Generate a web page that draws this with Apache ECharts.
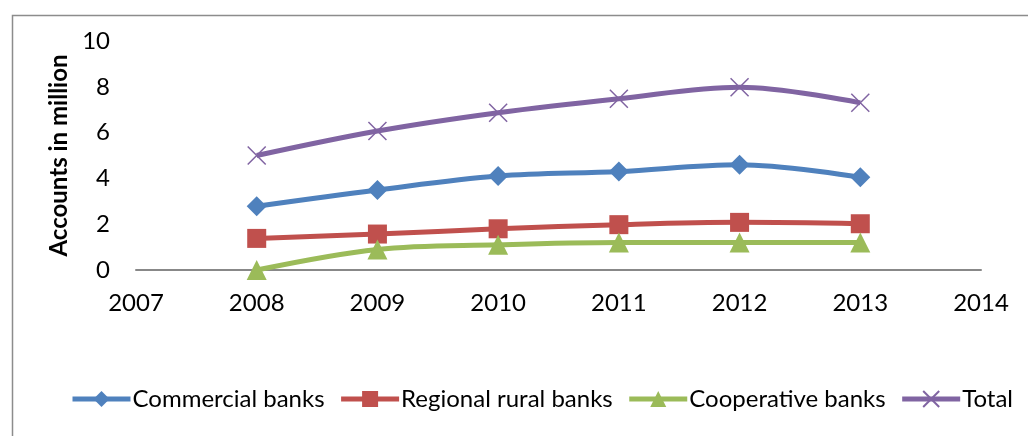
<!DOCTYPE html>
<html><head><meta charset="utf-8">
<script src="https://cdn.jsdelivr.net/npm/echarts@6/dist/echarts.min.js"></script>
<style>html,body{margin:0;padding:0;background:#fff}#c{width:1028px;height:436px}</style>
</head><body><div id="c"></div>
<script>
const years = [2008, 2009, 2010, 2011, 2012, 2013];
const commercial = [2.78, 3.49, 4.1, 4.3, 4.6, 4.05];
const regional = [1.38, 1.57, 1.8, 1.98, 2.08, 2.02];
const cooperative = [0, 0.9, 1.1, 1.2, 1.2, 1.2];
const total = [5.0, 6.07, 6.87, 7.48, 7.98, 7.3];
const seriesNames = ['Commercial banks', 'Regional rural banks', 'Cooperative banks', 'Total'];
const colors = ['#4F81BD', '#C0504D', '#9BBB59', '#8064A2'];
const FONT = 'Lato';
const xPath = 'path://M0,0L10,10M10,0L0,10';

function pairs(v){ return years.map((y,i)=>[y, v[i]]); }
function mk(name, data, color, symbol, size, extra){
  return Object.assign({
    name, type:'line', data: pairs(data), smooth:0.35,
    symbol, symbolSize:size, showSymbol:true,
    lineStyle:{color, width:5},
    itemStyle:{color, borderColor:color, borderWidth:0},
    emphasis:{disabled:true}
  }, extra||{});
}
const chart = echarts.init(document.getElementById('c'), null, {renderer:'canvas'});
chart.setOption({
  animation:false,
  color: colors,
  graphic:[{type:'rect', left:10, top:13, shape:{width:1040, height:450}, style:{fill:'none', stroke:'#8c8c8c', lineWidth:1.5}, silent:true}],
  grid:{left:136, right:47, top:41, bottom:166, containLabel:false},
  xAxis:{type:'value', min:2007, max:2014, interval:1,
    axisLine:{lineStyle:{color:'#888', width:2}}, axisTick:{show:false}, splitLine:{show:false},
    axisLabel:{color:'#000', fontSize:24, fontFamily:FONT, margin:21, formatter:v=>String(v)}},
  yAxis:{type:'value', min:0, max:10, interval:2,
    name:'Accounts in million', nameLocation:'middle', nameGap:60, nameRotate:90,
    nameTextStyle:{color:'#000', fontSize:24, fontWeight:'bold', fontFamily:FONT},
    axisLine:{show:false}, axisTick:{show:false}, splitLine:{show:false},
    axisLabel:{color:'#000', fontSize:24, fontFamily:FONT, margin:26}},
  legend:{bottom:25, left:70, width:955, padding:0, itemWidth:58, itemHeight:20, itemGap:14,
    lineStyle:{width:5},
    textStyle:{color:'#000', fontSize:24, fontFamily:FONT, padding:[0,0,0,-3]},
    data: seriesNames.map((n,i)=>({name:n}))},
  series:[
    mk(seriesNames[0], commercial, colors[0], 'diamond', 20),
    mk(seriesNames[1], regional, colors[1], 'rect', 19),
    mk(seriesNames[2], cooperative, colors[2], 'triangle', 20),
    mk(seriesNames[3], total, colors[3], xPath, 18, {itemStyle:{color:'none', borderColor:colors[3], borderWidth:1.5}})
  ]
});
</script></body></html>
